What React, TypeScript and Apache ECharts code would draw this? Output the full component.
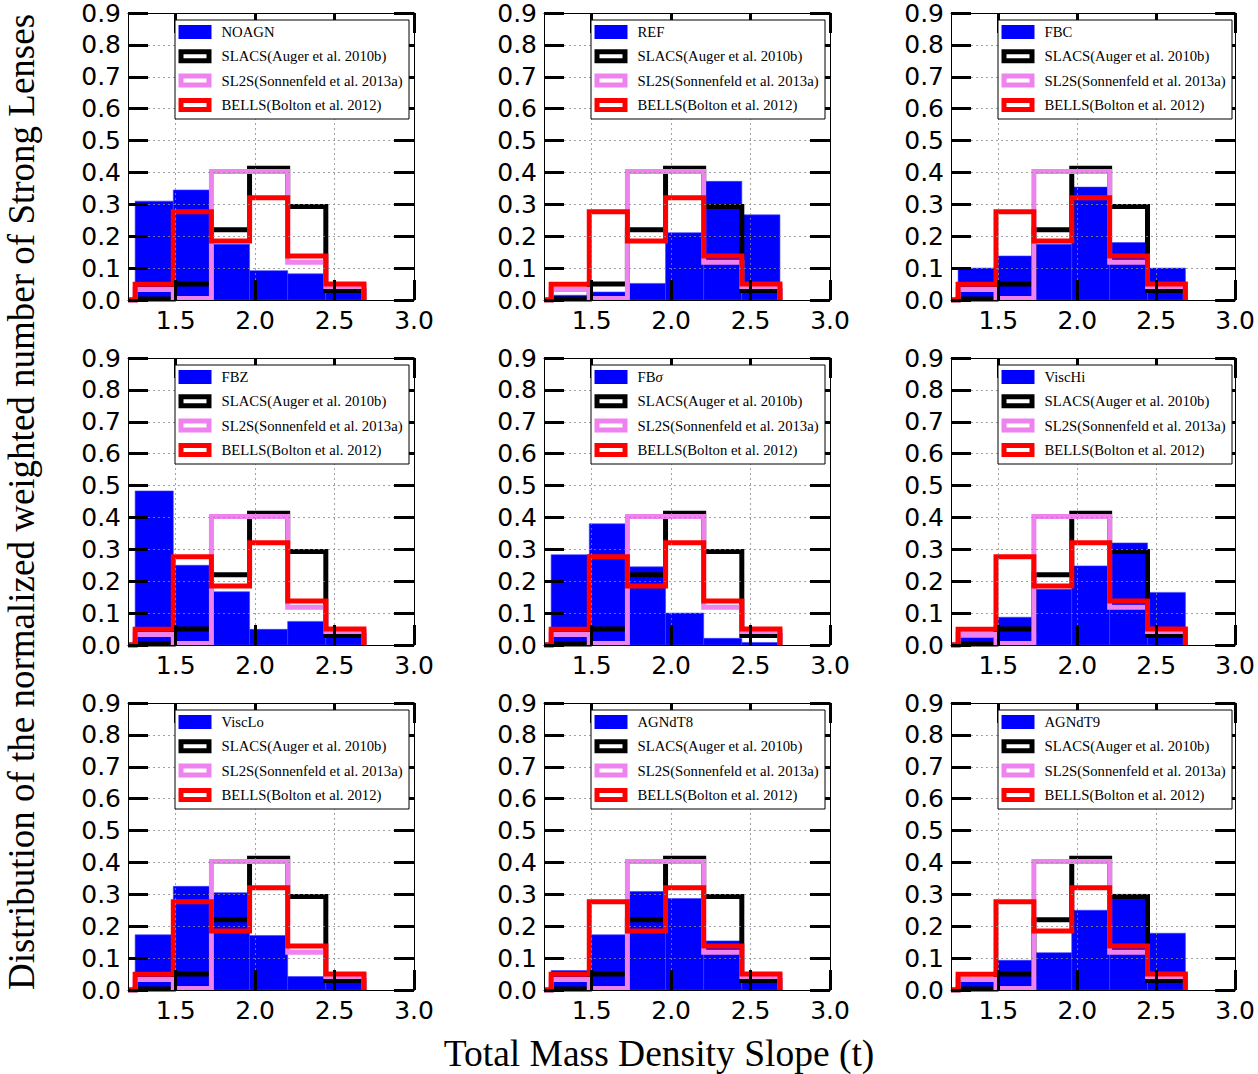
import React, { useEffect, useRef } from "react";
import * as echarts from "echarts";

// Histogram bin edges shared by every panel (total mass density slope t)
const BIN_EDGES = [1.245, 1.485, 1.725, 1.965, 2.205, 2.445, 2.685];
const X_MIN = 1.2;
const X_MAX = 3.0;
const X_TICKS = [1.5, 2.0, 2.5, 3.0];
const Y_MIN = 0;
const Y_MAX = 0.9;
const Y_STEP = 0.1;

// Observed samples (same in every panel)
const SLACS = [0.003, 0.05, 0.22, 0.413, 0.293, 0.03];
const SL2S = [0.033, 0.005, 0.403, 0.403, 0.118, 0.042];
const BELLS = [0.049, 0.277, 0.185, 0.321, 0.138, 0.05];

// Simulated lens distributions, one per panel
const NOAGN = [0.31, 0.345, 0.175, 0.092, 0.082, 0.03];
const REF = [0.015, 0.025, 0.052, 0.211, 0.372, 0.267];
const FBC = [0.1, 0.138, 0.175, 0.354, 0.18, 0.1];
const FBZ = [0.483, 0.25, 0.167, 0.049, 0.074, 0.03];
const FB_SIGMA = [0.283, 0.38, 0.245, 0.1, 0.021, 0.008];
const VISC_HI = [0.023, 0.087, 0.175, 0.248, 0.32, 0.165];
const VISC_LO = [0.173, 0.325, 0.305, 0.171, 0.042, 0.027];
const AGN_DT8 = [0.061, 0.173, 0.309, 0.287, 0.154, 0.055];
const AGN_DT9 = [0.031, 0.093, 0.117, 0.25, 0.3, 0.178];

const MODEL_NAMES = ["NOAGN", "REF", "FBC", "FBZ", "FBσ", "ViscHi", "ViscLo", "AGNdT8", "AGNdT9"];
const MODEL_VALUES = [NOAGN, REF, FBC, FBZ, FB_SIGMA, VISC_HI, VISC_LO, AGN_DT8, AGN_DT9];

const OBS_NAMES = ["SLACS(Auger et al. 2010b)", "SL2S(Sonnenfeld et al. 2013a)", "BELLS(Bolton et al. 2012)"];
const OBS_VALUES = [SLACS, SL2S, BELLS];
const OBS_COLORS = ["#000000", "#ee82ee", "#ff0000"];
const MODEL_COLOR = "#0000ff";

const X_TITLE = "Total Mass Density Slope (t)";
const Y_TITLE = "Distribution of the normalized weighted number of Strong Lenses";

// Panel layout (pixels)
const COL_LEFT = [128, 544, 951];
const ROW_TOP = [13, 358, 703];
const GRID_W = 286;
const GRID_H = 287;

const TICK_FONT = "DejaVu Sans";
const SERIF = "Liberation Serif";
const LEGEND_Z = 20;

function stepOutline(values: number[]): number[][] {
  const pts: number[][] = [[X_MIN, 0], [BIN_EDGES[0], 0]];
  values.forEach((v, k) => {
    pts.push([BIN_EDGES[k], v]);
    pts.push([BIN_EDGES[k + 1], v]);
  });
  pts.push([BIN_EDGES[BIN_EDGES.length - 1], 0]);
  return pts;
}

function barData(values: number[]): number[][] {
  return values.map((v, k) => [BIN_EDGES[k], BIN_EDGES[k + 1], v]);
}

function legendGraphic(left: number, top: number, modelName: string) {
  const boxX = left + 47;
  const boxY = top + 7;
  const boxW = 234;
  const boxH = 99;
  const rowGap = 24.3;
  const children: any[] = [
    {
      type: "rect",
      z: LEGEND_Z,
      shape: { x: 0, y: 0, width: boxW, height: boxH },
      style: { fill: "#ffffff", stroke: "#000000", lineWidth: 1 },
    },
  ];
  const labels = [modelName, ...OBS_NAMES];
  labels.forEach((label, i) => {
    const cy = 12 + rowGap * i;
    if (i === 0) {
      children.push({
        type: "rect",
        z: LEGEND_Z + 1,
        shape: { x: 3.5, y: cy - 7, width: 33, height: 14 },
        style: { fill: MODEL_COLOR },
      });
    } else {
      children.push({
        type: "rect",
        z: LEGEND_Z + 1,
        shape: { x: 6, y: cy - 4.5, width: 28, height: 9 },
        style: { fill: "#ffffff", stroke: OBS_COLORS[i - 1], lineWidth: 5, lineJoin: "miter" },
      });
    }
    const isSigma = label.endsWith("σ");
    const textStyle: any = {
      fill: "#000000",
      fontSize: 14.7,
      fontFamily: SERIF,
      align: "left",
      verticalAlign: "middle",
      textAlign: "left",
      textVerticalAlign: "middle",
    };
    if (isSigma) {
      textStyle.text = `{n|${label.slice(0, -1)}}{s|σ}`;
      textStyle.rich = {
        n: { fontSize: 14.7, fontFamily: SERIF, color: "#000" },
        s: { fontSize: 14.7, fontFamily: SERIF, fontStyle: "italic", color: "#000" },
      };
    } else {
      textStyle.text = label;
    }
    children.push({ type: "text", z: LEGEND_Z + 1, x: 46.5, y: cy, style: textStyle });
  });
  return { type: "group", x: boxX, y: boxY, z: LEGEND_Z, children };
}

function buildOption() {
  const grid: any[] = [];
  const xAxis: any[] = [];
  const yAxis: any[] = [];
  const series: any[] = [];
  const graphics: any[] = [];

  const tickStyle = { inside: true, length: 20, lineStyle: { color: "#000", width: 3 } };
  const spine = { show: true, onZero: false, lineStyle: { color: "#000", width: 1 } };
  const gridLine = { show: true, lineStyle: { color: "#8a8a8a", width: 0.8, type: [2, 3] } };

  MODEL_NAMES.forEach((name, i) => {
    const left = COL_LEFT[i % 3];
    const top = ROW_TOP[Math.floor(i / 3)];
    grid.push({ left, top, width: GRID_W, height: GRID_H, containLabel: false });

    xAxis.push({
      type: "value",
      gridIndex: i,
      position: "bottom",
      min: X_MIN,
      max: X_MAX,
      z: 6,
      axisLine: spine,
      axisTick: { ...tickStyle, customValues: X_TICKS },
      axisLabel: {
        customValues: X_TICKS,
        formatter: (v: number) => v.toFixed(1),
        fontSize: 25,
        fontFamily: TICK_FONT,
        color: "#000",
        margin: 8,
      },
      splitLine: gridLine,
    });
    xAxis.push({
      type: "value",
      gridIndex: i,
      position: "top",
      min: X_MIN,
      max: X_MAX,
      z: 6,
      axisLine: spine,
      axisTick: { ...tickStyle, customValues: X_TICKS },
      axisLabel: { show: false, customValues: X_TICKS },
      splitLine: { show: false },
    });
    yAxis.push({
      type: "value",
      gridIndex: i,
      position: "left",
      min: Y_MIN,
      max: Y_MAX,
      interval: Y_STEP,
      z: 6,
      axisLine: spine,
      axisTick: tickStyle,
      axisLabel: {
        formatter: (v: number) => v.toFixed(1),
        fontSize: 25,
        fontFamily: TICK_FONT,
        color: "#000",
        margin: 7,
      },
      splitLine: gridLine,
    });
    yAxis.push({
      type: "value",
      gridIndex: i,
      position: "right",
      min: Y_MIN,
      max: Y_MAX,
      interval: Y_STEP,
      z: 6,
      axisLine: spine,
      axisTick: tickStyle,
      axisLabel: { show: false },
      splitLine: { show: false },
    });

    series.push({
      type: "custom",
      name,
      xAxisIndex: 2 * i,
      yAxisIndex: 2 * i,
      z: 2,
      clip: true,
      encode: { x: [0, 1], y: 2 },
      data: barData(MODEL_VALUES[i]),
      renderItem: (_params: any, api: any) => {
        const p0 = api.coord([api.value(0), api.value(2)]);
        const p1 = api.coord([api.value(1), 0]);
        return {
          type: "rect",
          shape: { x: p0[0], y: p0[1], width: p1[0] - p0[0], height: p1[1] - p0[1] },
          style: { fill: MODEL_COLOR, stroke: "#3a3aff", lineWidth: 0.6 },
        };
      },
    });

    OBS_NAMES.forEach((obsName, k) => {
      series.push({
        type: "line",
        name: obsName,
        xAxisIndex: 2 * i,
        yAxisIndex: 2 * i,
        z: 3,
        clip: true,
        symbol: "none",
        data: stepOutline(OBS_VALUES[k]),
        lineStyle: { color: OBS_COLORS[k], width: 5, join: "miter", cap: "butt" },
      });
    });

    graphics.push(legendGraphic(left, top, name));
  });

  graphics.push({
    type: "text",
    x: 659,
    y: 1053,
    z: LEGEND_Z,
    style: {
      text: X_TITLE,
      fill: "#000",
      fontSize: 37.5,
      fontFamily: SERIF,
      align: "center",
      verticalAlign: "middle",
      textAlign: "center",
      textVerticalAlign: "middle",
    },
  });
  graphics.push({
    type: "text",
    x: 21,
    y: 502,
    z: LEGEND_Z,
    rotation: Math.PI / 2,
    style: {
      text: Y_TITLE,
      fill: "#000",
      fontSize: 37,
      fontFamily: SERIF,
      align: "center",
      verticalAlign: "middle",
      textAlign: "center",
      textVerticalAlign: "middle",
    },
  });

  return {
    animation: false,
    backgroundColor: "#ffffff",
    textStyle: { fontFamily: TICK_FONT },
    grid,
    xAxis,
    yAxis,
    series,
    graphic: { elements: graphics },
  };
}

export default function App() {
  const ref = useRef<HTMLDivElement>(null);
  useEffect(() => {
    if (!ref.current) return;
    const chart = echarts.init(ref.current, undefined, { renderer: "svg" });
    chart.setOption(buildOption() as any);
    return () => chart.dispose();
  }, []);
  return (
    <div
      ref={ref}
      style={{ position: "absolute", left: 0, top: 0, width: 1258, height: 1074, background: "#fff" }}
    />
  );
}
